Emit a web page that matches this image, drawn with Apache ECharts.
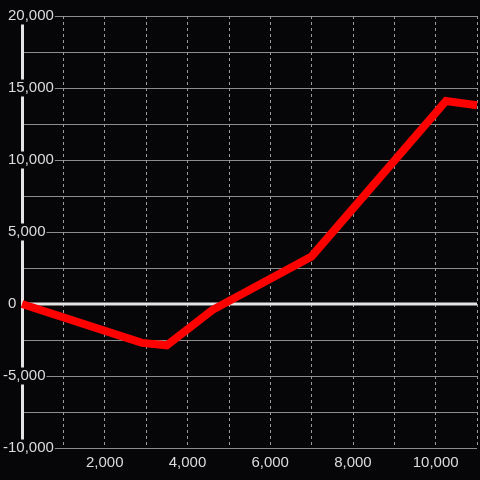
<!DOCTYPE html>
<html>
<head>
<meta charset="utf-8">
<script src="https://cdn.jsdelivr.net/npm/echarts@6/dist/echarts.min.js"></script>
<style>
html,body{margin:0;padding:0;background:#060608;}
#c{width:480px;height:480px;}
</style>
</head>
<body>
<div id="c"></div>
<script>
var xValues = [0, 2900, 3500, 4600, 7000, 10250, 11000];
var yValues = [0, -2700, -2870, -420, 3300, 14100, 13800];
var xTickLabels = [2000, 4000, 6000, 8000, 10000];
var yTickLabels = [-10000, -5000, 0, 5000, 10000, 15000, 20000];
var xRange = [0, 11000];
var yRange = [-10000, 20000];
var zeroLevel = 0;

function fmt(v) {
  var s = Math.abs(v).toString().replace(/\B(?=(\d{3})+(?!\d))/g, ',');
  return (v < 0 ? '-' : '') + s;
}

var data = xValues.map(function (x, i) { return [x, yValues[i]]; });
var zeroData = xRange.map(function (x) { return [x, zeroLevel]; });
var BG = '#060608';
var TXT = '#dcdcdc';
var FONT = '"Liberation Sans", Arial, sans-serif';

var chart = echarts.init(document.getElementById('c'), null, {renderer: 'canvas'});
chart.setOption({
  backgroundColor: BG,
  animation: false,
  grid: {left: 21, right: 0, top: 16, bottom: 32},
  xAxis: {
    type: 'value', min: xRange[0], max: xRange[1], interval: 1000,
    axisLine: {show: false}, axisTick: {show: false},
    axisLabel: {
      color: TXT, fontSize: 15, fontFamily: FONT, margin: 7,
      formatter: function (v) { return xTickLabels.indexOf(v) >= 0 ? fmt(v) : ''; }
    },
    splitLine: {show: true, lineStyle: {color: '#9a9a9a', width: 1, type: [3, 3]}}
  },
  yAxis: {
    type: 'value', min: yRange[0], max: yRange[1], interval: 5000,
    axisLine: {show: true, onZero: false, lineStyle: {color: '#e4e4e4', width: 3}},
    axisTick: {show: false},
    minorTick: {show: false, splitNumber: 2},
    minorSplitLine: {show: true, lineStyle: {color: '#8c8c8c', width: 1}},
    splitLine: {show: true, lineStyle: {color: '#8c8c8c', width: 1}},
    axisLabel: {
      align: 'left', margin: 19, color: TXT, fontSize: 15, fontFamily: FONT,
      backgroundColor: BG, padding: [1, 1, 1, 0], lineHeight: 15,
      formatter: function (v) {
        if (yTickLabels.indexOf(v) < 0) return '';
        return v < 0 ? '{n|' + fmt(v) + '}' : '{s| }{n|' + fmt(v) + '}';
      },
      rich: {
        n: {color: TXT, fontSize: 15, fontFamily: FONT, lineHeight: 15},
        s: {width: 5, fontSize: 15, lineHeight: 15}
      }
    }
  },
  series: [{
    type: 'line', data: zeroData, symbol: 'none', silent: true,
    lineStyle: {color: '#e4e4e4', width: 3}, z: 1
  }, {
    type: 'line', data: data, symbol: 'none', smooth: false,
    lineStyle: {color: '#ff0000', width: 8, cap: 'butt', join: 'miter'},
    z: 3
  }]
});
</script>
</body>
</html>
